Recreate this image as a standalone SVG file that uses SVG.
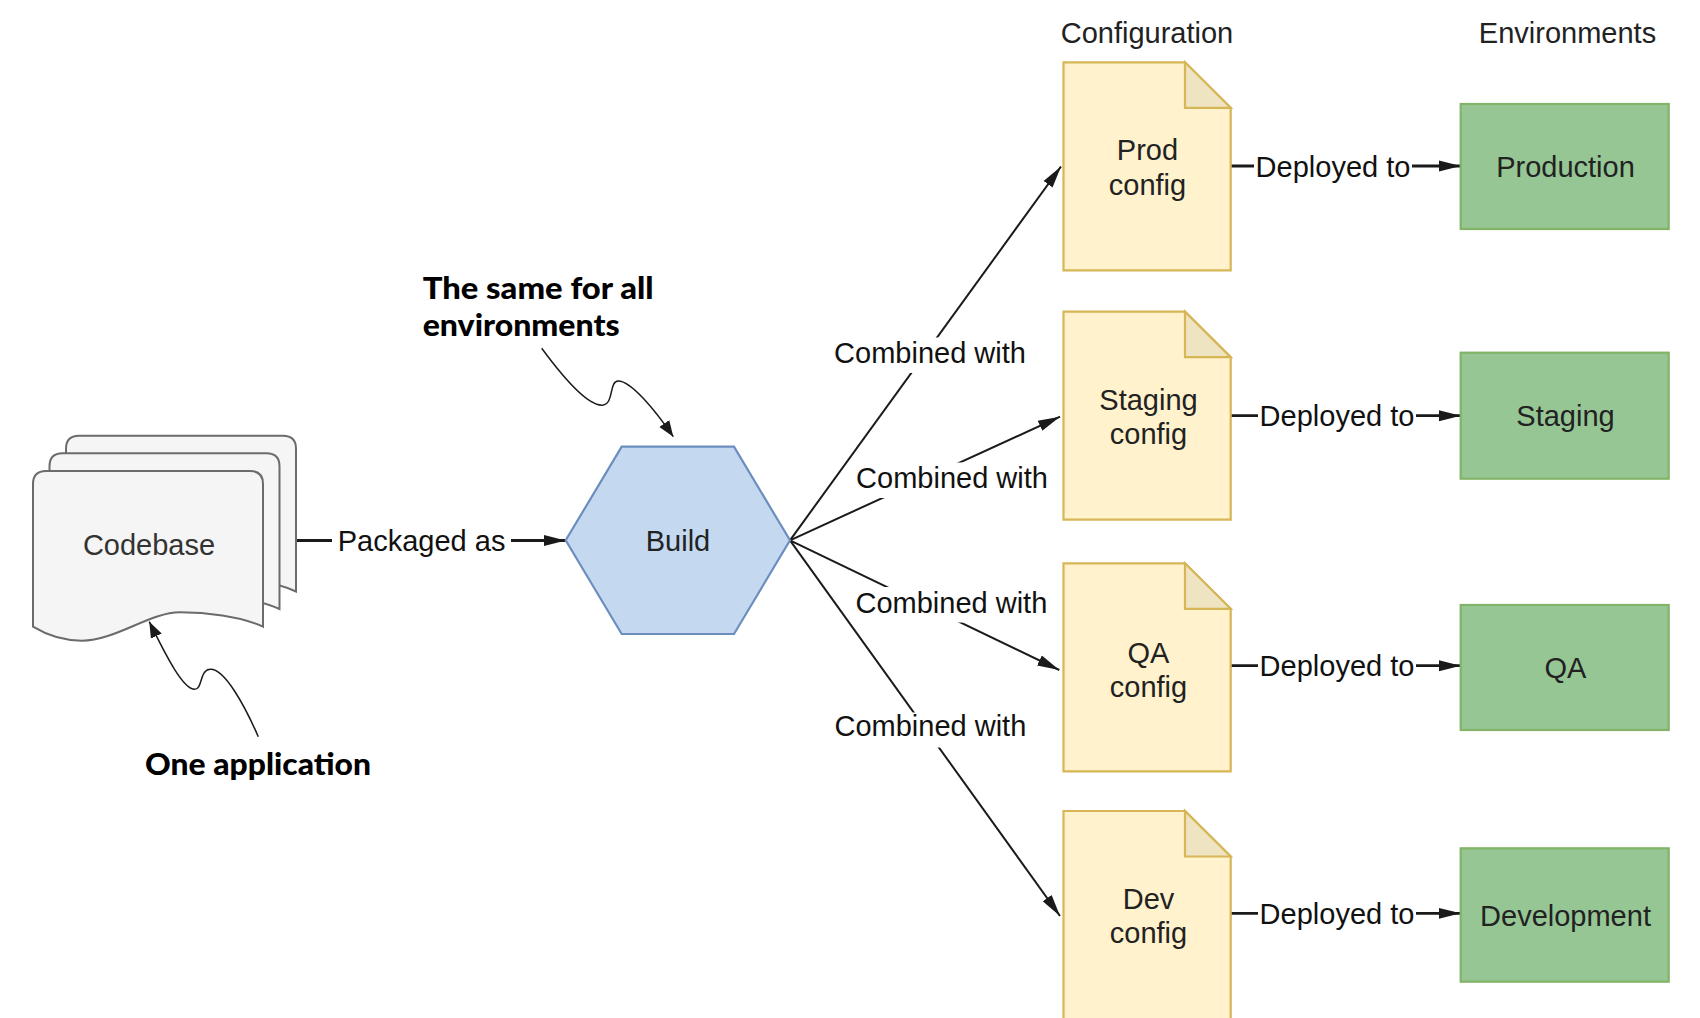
<svg xmlns="http://www.w3.org/2000/svg" width="1700" height="1018" viewBox="0 0 1700 1018">
  <style>
    .lbl { font-family: "Liberation Sans", Arial, Helvetica, sans-serif; font-size: 29px; fill: #111111; }
    .ntxt { font-family: "Liberation Sans", Arial, Helvetica, sans-serif; font-size: 29px; fill: #222222; text-anchor: middle; }
    .note { font-family: Lato, "Open Sans", "DejaVu Sans", sans-serif; font-size: 30px; font-weight: 900; fill: #000000; }
    .conn { stroke: #1a1a1a; stroke-width: 2; fill: none; }
    .thick { stroke-width: 2.8; }
    .curl { stroke: #1a1a1a; stroke-width: 1.5; fill: none; }
    .bg { fill: #ffffff; }
    .page { fill: #f4f5f4; stroke: #6b6b6b; stroke-width: 2; }
    .doc { fill: #fff2cc; stroke: #d6b656; stroke-width: 2.2; }
    .fold { fill: #efe4c2; stroke: #d6b656; stroke-width: 2.2; stroke-linejoin: miter; }
    .env { fill: #97c695; stroke: #82b366; stroke-width: 2.2; }
    .hex { fill: #c4d9f0; stroke: #6c8ebf; stroke-width: 2.2; }
  </style>
  <defs>
    <marker id="arr" markerUnits="userSpaceOnUse" markerWidth="24" markerHeight="14" refX="22" refY="7" orient="auto">
      <path d="M0,1.5 L22,7 L0,12.5 Z" fill="#1a1a1a"/>
    </marker>
    <marker id="arrs" markerUnits="userSpaceOnUse" markerWidth="18" markerHeight="14" refX="16" refY="7" orient="auto">
      <path d="M0,1 L16,7 L0,13 Z" fill="#1a1a1a"/>
    </marker>
    <path id="pg" d="M33,484 Q33,471 46,471 L250,471 Q263,471 263,484 L263,626.7 C240,616 205,612.3 180,612.3 C150,612.3 115,640.7 82,640.7 C62,640.7 45,634 33,626.7 Z"/>
    <path id="docShape" d="M0,0 L121.5,0 L167.2,45.5 L167.2,208 L0,208 Z"/>
    <path id="foldShape" d="M121.5,0 L121.5,45.5 L167.2,45.5 Z"/>
  </defs>

  <!-- headers -->
  <text class="ntxt" x="1147" y="43.3">Configuration</text>
  <text class="ntxt" x="1567.5" y="43.3">Environments</text>

  <!-- connectors -->
  <g id="connectors">
    <path class="conn thick" d="M296,540.5 L565.7,540.5" marker-end="url(#arr)"/>
    <path class="conn" d="M790,540.3 L1061,166.5" marker-end="url(#arr)"/>
    <path class="conn" d="M790,540.3 L1060,416.7" marker-end="url(#arr)"/>
    <path class="conn" d="M790,540.3 L1059.3,670" marker-end="url(#arr)"/>
    <path class="conn" d="M790,540.3 L1060,916" marker-end="url(#arr)"/>
    <path class="conn thick" d="M1231,166 L1460.7,166" marker-end="url(#arr)"/>
    <path class="conn thick" d="M1231,415.7 L1460.7,415.7" marker-end="url(#arr)"/>
    <path class="conn thick" d="M1231,665.7 L1460.7,665.7" marker-end="url(#arr)"/>
    <path class="conn thick" d="M1231,913.3 L1460.7,913.3" marker-end="url(#arr)"/>

    <!-- labels -->
    <rect class="bg" x="332" y="523" width="179" height="35"/>
    <text class="lbl" x="421.6" y="550.5" text-anchor="middle">Packaged as</text>

    <rect class="bg" x="833" y="337.5" width="194" height="35.5"/>
    <text class="lbl" x="930" y="363" text-anchor="middle">Combined with</text>
    <rect class="bg" x="855" y="462.5" width="194" height="35.5"/>
    <text class="lbl" x="952" y="487.7" text-anchor="middle">Combined with</text>
    <rect class="bg" x="854" y="587" width="195" height="35.5"/>
    <text class="lbl" x="951.4" y="613.3" text-anchor="middle">Combined with</text>
    <rect class="bg" x="833" y="712.5" width="195" height="35"/>
    <text class="lbl" x="930.4" y="736" text-anchor="middle">Combined with</text>

    <rect class="bg" x="1254" y="148" width="158" height="36"/>
    <text class="lbl" x="1333" y="176.5" text-anchor="middle">Deployed to</text>
    <rect class="bg" x="1258" y="398" width="158" height="36"/>
    <text class="lbl" x="1337" y="426" text-anchor="middle">Deployed to</text>
    <rect class="bg" x="1258" y="648" width="158" height="36"/>
    <text class="lbl" x="1337" y="676" text-anchor="middle">Deployed to</text>
    <rect class="bg" x="1258" y="895" width="158" height="36"/>
    <text class="lbl" x="1337" y="923.5" text-anchor="middle">Deployed to</text>

    <!-- annotation arrows -->
    <path class="curl" d="M541.7,348.3 C568,384 591,407 603.3,405 C614,403 609,381 618.3,381 C631,381 655,410 673.3,436.7" marker-end="url(#arrs)"/>
    <path class="curl" d="M258.3,736.7 C244,704 224,668 210,669.3 C199,670 203,690 194,689.3 C183,688 168,660 149.3,621.7" marker-end="url(#arrs)"/>
  </g>

  <!-- Codebase (stacked documents) -->
  <g id="codebase">
    <use href="#pg" class="page" transform="translate(33,-35.2)"/>
    <use href="#pg" class="page" transform="translate(16.5,-17.7)"/>
    <use href="#pg" class="page"/>
    <text class="ntxt" x="149" y="555" style="fill:#333333">Codebase</text>
  </g>

  <!-- Build -->
  <g id="build">
    <polygon class="hex" points="621.7,446.7 734,446.7 790,540.3 734,634 621.7,634 565.7,540.3"/>
    <text class="ntxt" x="678" y="550.7">Build</text>
  </g>

  <!-- Config documents -->
  <g id="prod-config" transform="translate(1063.5,62.3)">
    <use href="#docShape" class="doc"/>
    <use href="#foldShape" class="fold"/>
    <text class="ntxt" x="84" y="98">Prod</text>
    <text class="ntxt" x="84" y="132.5">config</text>
  </g>
  <g id="staging-config" transform="translate(1063.5,311.7)">
    <use href="#docShape" class="doc"/>
    <use href="#foldShape" class="fold"/>
    <text class="ntxt" x="85" y="98">Staging</text>
    <text class="ntxt" x="85" y="132.5">config</text>
  </g>
  <g id="qa-config" transform="translate(1063.5,563.3)">
    <use href="#docShape" class="doc"/>
    <use href="#foldShape" class="fold"/>
    <text class="ntxt" x="85" y="99.4">QA</text>
    <text class="ntxt" x="85" y="133.9">config</text>
  </g>
  <g id="dev-config" transform="translate(1063.5,811)">
    <use href="#docShape" class="doc"/>
    <use href="#foldShape" class="fold"/>
    <text class="ntxt" x="85" y="97.8">Dev</text>
    <text class="ntxt" x="85" y="132.3">config</text>
  </g>

  <!-- Environments -->
  <g id="env-production">
    <rect class="env" x="1460.7" y="104" width="208" height="125"/>
    <text class="ntxt" x="1565.5" y="177">Production</text>
  </g>
  <g id="env-staging">
    <rect class="env" x="1460.7" y="352.7" width="208" height="126"/>
    <text class="ntxt" x="1565.5" y="426">Staging</text>
  </g>
  <g id="env-qa">
    <rect class="env" x="1460.7" y="605" width="208" height="125"/>
    <text class="ntxt" x="1565.5" y="678">QA</text>
  </g>
  <g id="env-development">
    <rect class="env" x="1460.7" y="848.3" width="208" height="133.4"/>
    <text class="ntxt" x="1565.5" y="926">Development</text>
  </g>

  <!-- Annotations -->
  <g id="note-same">
    <text class="note" x="422.7" y="298.5" textLength="231" lengthAdjust="spacingAndGlyphs">The same for all</text>
    <text class="note" x="422.7" y="335.5" textLength="197" lengthAdjust="spacingAndGlyphs">environments</text>
  </g>
  <g id="note-one">
    <text class="note" x="145" y="775" textLength="226" lengthAdjust="spacingAndGlyphs">One application</text>
  </g>
</svg>
